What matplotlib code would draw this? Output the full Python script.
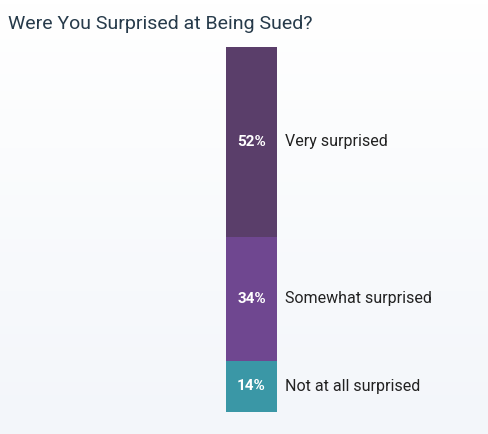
import matplotlib
matplotlib.use("Agg")
import matplotlib.pyplot as plt
import numpy as np

categories = ["Not at all surprised", "Somewhat surprised", "Very surprised"]
values = [14, 34, 52]
colors = ["#3a97a6", "#6f4790", "#5a3e6a"]
title = "Were You Surprised at Being Sued?"

plt.rcParams['font.family'] = ['Roboto', 'DejaVu Sans']
fig = plt.figure(figsize=(4.88, 4.34), dpi=100)
# background gradient
bg = fig.add_axes([0, 0, 1, 1], zorder=-1)
grad = np.linspace(0, 1, 100).reshape(-1, 1)
from matplotlib.colors import LinearSegmentedColormap
cm = LinearSegmentedColormap.from_list("g", ["#f3f6fa", "#ffffff"])
bg.imshow(grad, aspect="auto", cmap=cm, extent=[0, 1, 0, 1], origin="lower")
bg.axis("off")

ax = fig.add_axes([0, 412/434 * 0 + (434-412)/434, 1, 365/434])
ax.set_xlim(0, 488)
ax.set_ylim(0, 100)
ax.axis("off")
bottom = 0
for cat, v, c in zip(categories, values, colors):
    ax.bar(251.5, v, width=51, bottom=bottom, color=c)
    mid = bottom + v / 2
    ax.text(251.5, mid, f"{v}%", ha="center", va="center", color="white",
            fontsize=11, fontweight="bold")
    ax.text(285, mid, cat, ha="left", va="center", color="#222222", fontsize=11.5)
    bottom += v

fig.text(8/488, 1 - 24/434, title, ha="left", va="center", fontsize=14, color="#263a4a")
fig.savefig("out.png", dpi=100)
